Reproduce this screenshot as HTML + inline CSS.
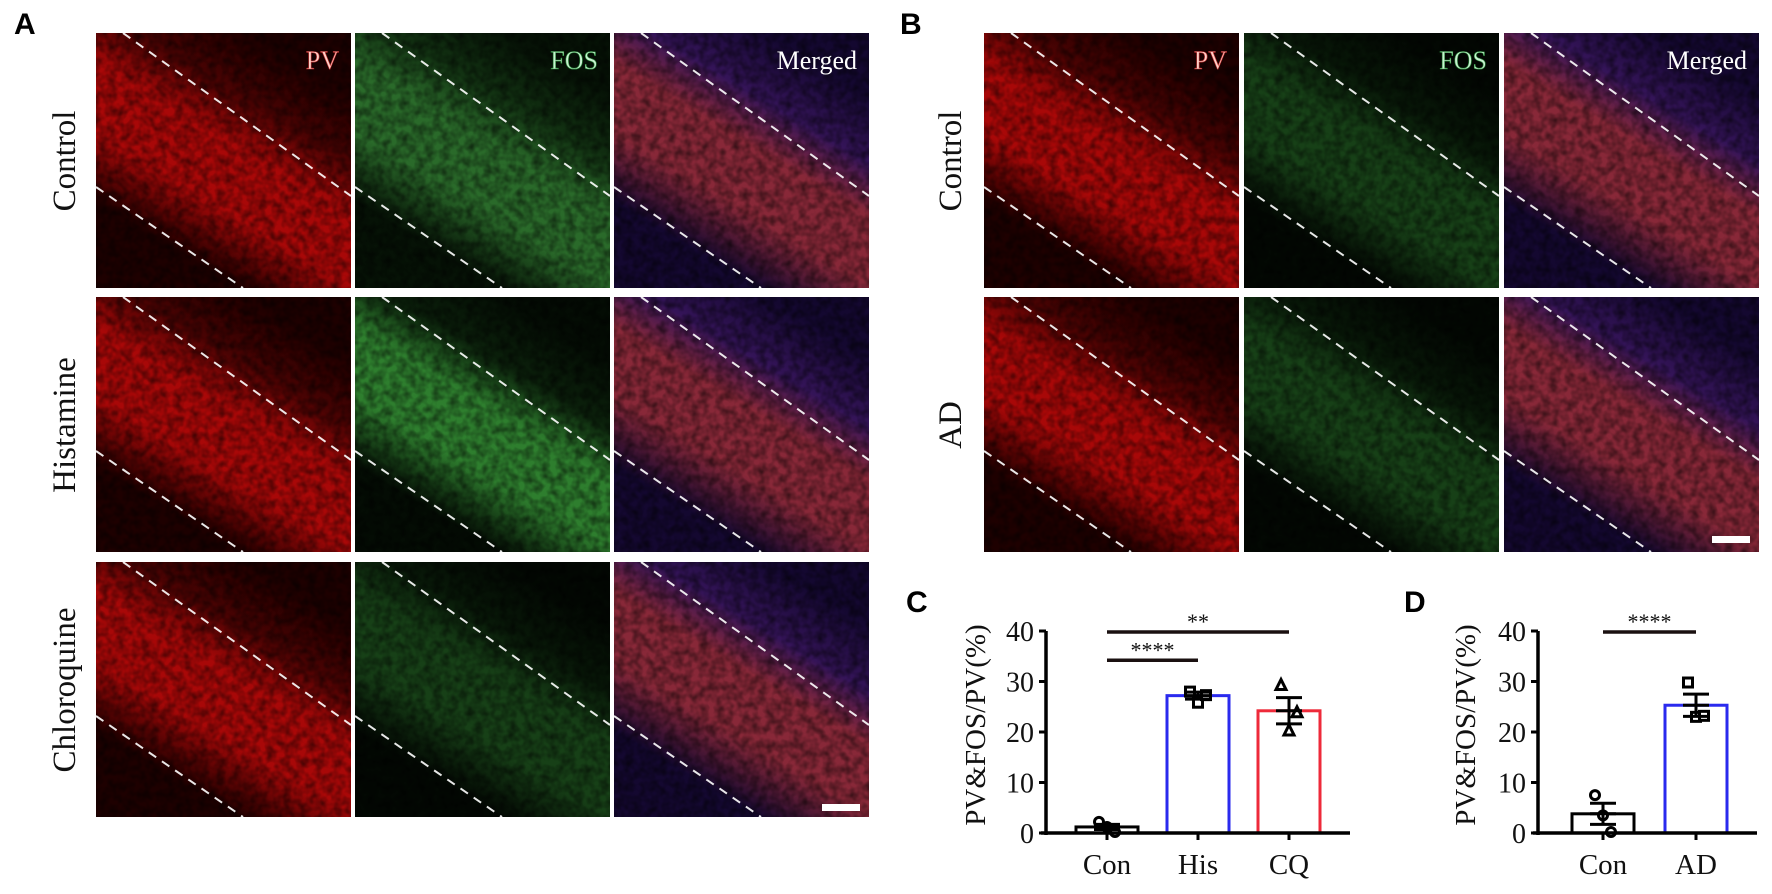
<!DOCTYPE html>
<html><head><meta charset="utf-8"><style>
html,body{margin:0;padding:0;background:#fff;}
svg{display:block;}
text{font-family:"Liberation Serif",serif;}
.lbl{font-family:"Liberation Sans",sans-serif;font-weight:bold;font-size:30px;}
</style></head><body>
<svg id="fig" width="1772" height="894" viewBox="0 0 1772 894" xmlns="http://www.w3.org/2000/svg">
<defs>
<filter id="noise" x="0" y="0" width="100%" height="100%">
<feTurbulence type="fractalNoise" baseFrequency="0.12" numOctaves="2" seed="3" result="t"/>
<feColorMatrix in="t" type="matrix" values="0 0 0 0 0  0 0 0 0 0  0 0 0 0 0  0 0 0 -1.6 1.1" result="a"/>
<feComposite in="SourceGraphic" in2="a" operator="in"/>
</filter>
</defs>
<text class="lbl" x="14" y="34">A</text>
<text class="lbl" x="900" y="34">B</text>
<text class="lbl" x="906" y="612">C</text>
<text class="lbl" x="1404" y="612">D</text>
<g id="panels"></g>
<g id="chartC"></g>
<g id="chartD"></g>
</svg>
<script>
const NS="http://www.w3.org/2000/svg";
const svg=document.getElementById('fig');
function mk(tag,attrs,parent,txt){const e=document.createElementNS(NS,tag);for(const k in attrs)e.setAttribute(k,attrs[k]);if(txt!==undefined)e.textContent=txt;parent.appendChild(e);return e;}

const pg=document.getElementById('panels');
const defs=svg.querySelector('defs');
const colsA=[96,355,614], colsB=[984,1244,1504], rows=[33,297,562], PS=255;
const pal={
 pv:['#1e0000','#a80808','#4a0303'],
 fos:['#061206','#2a6a2a','#123212'],
 fosH:['#040c04','#2e7e2e','#0b200b'],
 fosD:['#030803','#174017','#081808'],
 mrg:['#140830','#882838','#341458']
};
let gid=0;
function panel(x,y,type,name){
  const g=mk('g',{},pg);
  
  
  const c=pal[type];const id='g'+(gid++);
  const lg=mk('linearGradient',{id:id,x1:'0',y1:'1',x2:'0.6',y2:'0'},defs);
  mk('stop',{offset:'0','stop-color':c[0]},lg);
  mk('stop',{offset:'0.25','stop-color':c[0]},lg);
  mk('stop',{offset:'0.45','stop-color':c[1]},lg);
  mk('stop',{offset:'0.65','stop-color':c[1]},lg);
  mk('stop',{offset:'0.8','stop-color':c[2]},lg);
  mk('stop',{offset:'1','stop-color':c[0]},lg);
  mk('rect',{x:x,y:y,width:PS,height:PS,fill:'url(#'+id+')'},g);
  mk('rect',{x:x,y:y,width:PS,height:PS,fill:'#000',opacity:'0.6',filter:'url(#noise)'},g);
  mk('line',{x1:x+27,y1:y,x2:x+PS,y2:y+163,stroke:'#fff','stroke-width':2,'stroke-dasharray':'9 7',opacity:0.9},g);
  mk('line',{x1:x,y1:y+154,x2:x+147,y2:y+PS,stroke:'#fff','stroke-width':2,'stroke-dasharray':'9 7',opacity:0.9},g);
  return g;
}
const typesA=[['pv','fos','mrg'],['pv','fosH','mrg'],['pv','fosD','mrg']];
const typesB=[['pv','fosD','mrg'],['pv','fosD','mrg']];
const cn=['pv','fos','merged'];
for(let r=0;r<3;r++)for(let c=0;c<3;c++)panel(colsA[c],rows[r],typesA[r][c],'panel-a-r'+(r+1)+'-'+cn[c]);
for(let r=0;r<2;r++)for(let c=0;c<3;c++)panel(colsB[c],rows[r],typesB[r][c],'panel-b-r'+(r+1)+'-'+cn[c]);
const titles=[['PV','#ffd0c8'],['FOS','#c8f0d0'],['Merged','#ffffff']];
[colsA,colsB].forEach((cols,k)=>{titles.forEach((t,i)=>{
  const e=mk('text',{x:cols[i]+PS-12,y:rows[0]+36,'text-anchor':'end','font-size':'26',fill:t[1],stroke:i==0?'#c03030':(i==1?'#2a8a3a':'none'),'stroke-width':'0.6'},pg,t[0]);
  
  
});});
const rowL=[['Control',64,rows[0]+128],['Histamine',64,rows[1]+128],['Chloroquine',64,rows[2]+128],['Control',950,rows[0]+128],['AD',950,rows[1]+128]];
rowL.forEach(r=>{const e=mk('text',{x:0,y:0,transform:'translate('+(r[1]+11)+','+r[2]+') rotate(-90)','text-anchor':'middle','font-size':'33',fill:'#111'},pg,r[0]);
  
  });
const sb1=mk('rect',{x:822,y:804,width:38,height:7,fill:'#fff'},pg);


const sb2=mk('rect',{x:1712,y:536,width:38,height:7,fill:'#fff'},pg);


</script>
<script>
const cCats=['Con','His','CQ'];
const cMeans=[1.2,27.2,24.2];
const cSEM=[0.5,0.7,2.6];
const cPoints=[[2.2,1.2,0.2],[28.0,25.8,27.3],[29.2,20.2,23.8]];
const cColors=['#000','#2a2aee','#ee2a3a'];
const cMarkers=['circle','square','triangle'];
const dCats=['Con','AD'];
const dMeans=[3.8,25.3];
const dSEM=[2.1,2.2];
const dPoints=[[7.5,3.5,0.2],[29.8,23.0,23.2]];
const dColors=['#000','#2a2aee'];
const dMarkers=['circle','square'];
const yTicks=[0,10,20,30,40];
const cSig=[['**',0,2,39.8],['****',0,1,34.2]];
const dSig=[['****',0,1,39.8]];

function drawChart(gid,axX,axEnd,firstCenter,step,cats,means,sem,pts,colors,markers,sig,titleX){
  const g=document.getElementById(gid);
  const y0=833, k=5.05;
  const Y=v=>y0-v*k;
  const X=i=>firstCenter+i*step;
  const bw=62;
  cats.forEach((c,i)=>{
    const b=mk('rect',{x:X(i)-bw/2,y:Y(means[i]),width:bw,height:Y(0)-Y(means[i]),fill:'#fff',stroke:colors[i],'stroke-width':3},g);
    
    
  });
  cats.forEach((c,i)=>{pts[i].forEach((v,j)=>{
    const dx=(j-1)*8, cx=X(i)+dx, cy=Y(v);
    let m;
    if(markers[i]=='circle') m=mk('circle',{cx:cx,cy:cy,r:4.5,fill:'#fff',stroke:'#000','stroke-width':3},g);
    else if(markers[i]=='square') m=mk('rect',{x:cx-4.5,y:cy-4.5,width:9,height:9,fill:'#fff',stroke:'#000','stroke-width':3},g);
    else m=mk('polygon',{points:(cx)+','+(cy-6)+' '+(cx-5)+','+(cy+4)+' '+(cx+5)+','+(cy+4),fill:'#fff',stroke:'#000','stroke-width':3},g);
    
    
  });});
  cats.forEach((c,i)=>{
    const e=mk('path',{d:'M'+X(i)+' '+Y(means[i]+sem[i])+'V'+Y(means[i]-sem[i])+'M'+(X(i)-13)+' '+Y(means[i]+sem[i])+'h26M'+(X(i)-13)+' '+Y(means[i])+'h26M'+(X(i)-13)+' '+Y(means[i]-sem[i])+'h26',stroke:'#000','stroke-width':3,fill:'none'},g);
    
    
  });
  const ya=mk('line',{x1:axX,y1:Y(40),x2:axX,y2:y0+2,stroke:'#000','stroke-width':3.5},g);
  
  
  const xa=mk('line',{x1:axX-5,y1:y0,x2:axEnd,y2:y0,stroke:'#000','stroke-width':3.5},g);
  
  
  yTicks.forEach(t=>{
    mk('line',{x1:axX-7,y1:Y(t),x2:axX,y2:Y(t),stroke:'#000','stroke-width':3},g);
    const tl=mk('text',{x:axX-12,y:Y(t)+10,'text-anchor':'end','font-size':'28',fill:'#111'},g,String(t));
    
    
  });
  cats.forEach((c,i)=>{
    mk('line',{x1:X(i),y1:y0,x2:X(i),y2:y0+7,stroke:'#000','stroke-width':3},g);
    const xl=mk('text',{x:X(i),y:874,'text-anchor':'middle','font-size':'29',fill:'#111'},g,c);
    
    
  });
  const tt=mk('text',{x:0,y:0,transform:'translate('+(titleX+10)+',725) rotate(-90)','text-anchor':'middle','font-size':'29',fill:'#111'},g,'PV&FOS/PV(%)');
  
  
  sig.forEach(s=>{
    const l=mk('line',{x1:X(s[1]),y1:Y(s[3]),x2:X(s[2]),y2:Y(s[3]),stroke:'#1a1010','stroke-width':3.5},g);
    
    
    const t=mk('text',{x:(X(s[1])+X(s[2]))/2,y:Y(s[3])-3,'text-anchor':'middle','font-size':'22',fill:'#111'},g,s[0]);
    
    
  });
}
drawChart('chartC',1046,1350,1107,91,cCats,cMeans,cSEM,cPoints,cColors,cMarkers,cSig,975);
drawChart('chartD',1538,1757,1603,93,dCats,dMeans,dSEM,dPoints,dColors,dMarkers,dSig,1465);
</script>
</body></html>
